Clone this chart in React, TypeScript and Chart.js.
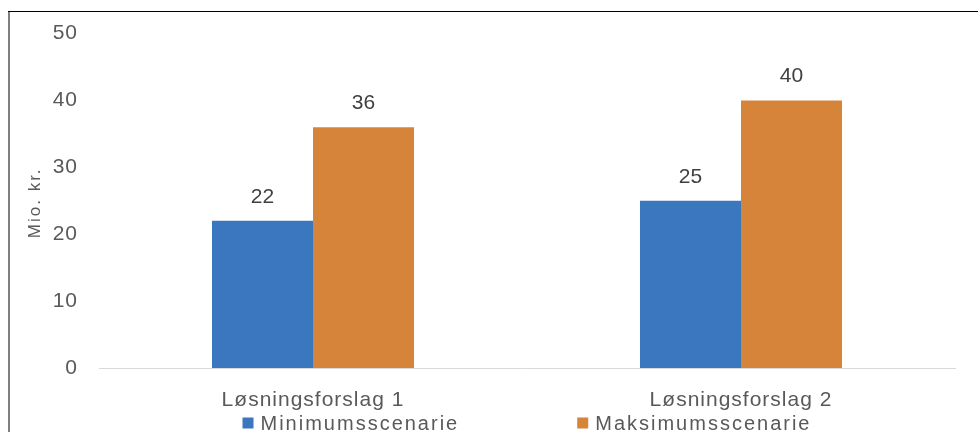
import { useEffect, useRef } from "react";
import { Chart, registerables } from "chart.js";

Chart.register(...registerables);

const categories = ["Løsningsforslag 1", "Løsningsforslag 2"];
const seriesNames = ["Minimumsscenarie", "Maksimumsscenarie"];
const minimumValues = [22, 25];
const maximumValues = [36, 40];
const yMin = 0;
const yMax = 50;
const yStep = 10;
const yAxisTitle = "Mio. kr.";
const seriesColors = ["#3A77BF", "#D6843A"];

const FONT = '"Liberation Sans", Arial, sans-serif';
const W = 978;
const H = 432;

export default function App() {
  const ref = useRef<HTMLCanvasElement>(null);

  useEffect(() => {
    const canvas = ref.current;
    if (!canvas) return;

    const textPlugin = {
      id: "textAndFrame",
      beforeDraw(chart: any) {
        chart.ctx.letterSpacing = "1px";
      },
      afterDatasetsDraw(chart: any) {
        const ctx = chart.ctx as CanvasRenderingContext2D;
        ctx.save();
        (ctx as any).letterSpacing = "0px";
        ctx.font = `21px ${FONT}`;
        ctx.fillStyle = "#404040";
        ctx.textAlign = "center";
        ctx.textBaseline = "middle";
        chart.data.datasets.forEach((ds: any, i: number) => {
          chart.getDatasetMeta(i).data.forEach((el: any, j: number) => {
            ctx.fillText(String(ds.data[j]), el.x, el.y - 24);
          });
        });
        ctx.restore();
      },
      afterDraw(chart: any) {
        const ctx = chart.ctx as CanvasRenderingContext2D;
        const area = chart.chartArea;

        // y-axis title
        ctx.save();
        (ctx as any).letterSpacing = "2px";
        ctx.font = `17px ${FONT}`;
        ctx.fillStyle = "#595959";
        ctx.translate(35, (area.top + area.bottom) / 2 + 2);
        ctx.rotate(-Math.PI / 2);
        ctx.textAlign = "center";
        ctx.textBaseline = "middle";
        ctx.fillText(yAxisTitle, 0, 0);
        ctx.restore();

        // legend
        ctx.save();
        (ctx as any).letterSpacing = "2px";
        ctx.font = `20px ${FONT}`;
        ctx.textBaseline = "middle";
        ctx.textAlign = "left";
        const box = 11;
        const gapBoxText = 7;
        const gapItems = 118;
        const widths = chart.data.datasets.map((ds: any) => ctx.measureText(ds.label).width);
        const total = widths.reduce((a: number, w: number) => a + w, 0) + (box + gapBoxText) * widths.length + gapItems * (widths.length - 1);
        let x = (area.left + area.right) / 2 - total / 2;
        const yMid = H - 8;
        chart.data.datasets.forEach((ds: any, i: number) => {
          ctx.fillStyle = ds.backgroundColor;
          ctx.fillRect(x, yMid - 6.5, box, box);
          x += box + gapBoxText;
          ctx.fillStyle = "#595959";
          ctx.fillText(ds.label, x, yMid);
          x += widths[i] + gapItems;
        });
        ctx.restore();

        // frame
        ctx.save();
        ctx.fillStyle = "#7f7f7f";
        ctx.fillRect(8, 11, 2, H - 11);
        ctx.fillStyle = "#000000";
        ctx.fillRect(8, 11, W - 8, 1);
        ctx.restore();
      },
    };

    const chart = new Chart(canvas, {
      type: "bar",
      data: {
        labels: categories,
        datasets: [
          {
            label: seriesNames[0],
            data: minimumValues,
            backgroundColor: seriesColors[0],
            borderWidth: 0,
            categoryPercentage: 0.472,
            barPercentage: 1,
          },
          {
            label: seriesNames[1],
            data: maximumValues,
            backgroundColor: seriesColors[1],
            borderWidth: 0,
            categoryPercentage: 0.472,
            barPercentage: 1,
          },
        ],
      },
      options: {
        responsive: false,
        animation: false,
        layout: { padding: { left: 20, right: 23, top: 31, bottom: 0 } },
        plugins: {
          legend: { display: false },
          tooltip: { enabled: false },
          title: { display: false },
        },
        scales: {
          x: {
            grid: { display: false, drawTicks: false },
            border: { display: true, color: "#d9d9d9", width: 1 },
            ticks: {
              color: "#595959",
              font: { family: FONT, size: 21 },
              padding: 20,
            },
            afterFit(scale: any) {
              scale.height = 64;
            },
          },
          y: {
            min: yMin,
            max: yMax,
            grid: { display: false, drawTicks: false },
            border: { display: false },
            ticks: {
              stepSize: yStep,
              color: "#595959",
              font: { family: FONT, size: 21 },
              padding: 21,
            },
            afterFit(scale: any) {
              scale.width = 79;
            },
          },
        },
      },
      plugins: [textPlugin],
    });

    return () => chart.destroy();
  }, []);

  return (
    <div style={{ position: "absolute", left: 0, top: 0, width: W, height: H, background: "#ffffff" }}>
      <canvas ref={ref} width={W} height={H} style={{ display: "block", width: W, height: H }} />
    </div>
  );
}
